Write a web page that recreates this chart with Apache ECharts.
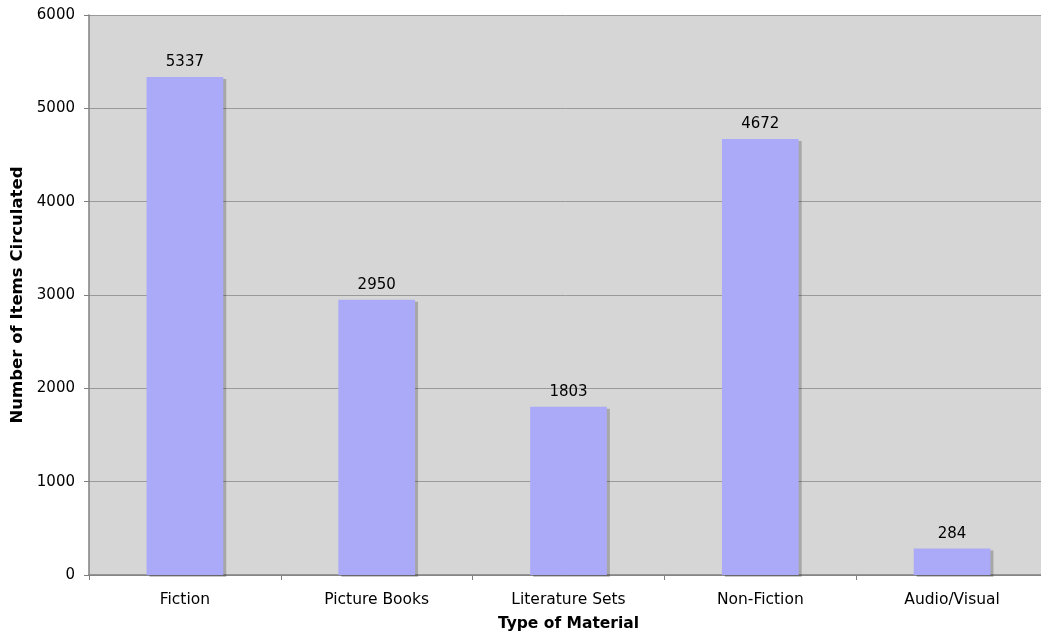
<!DOCTYPE html>
<html>
<head>
<meta charset="utf-8">
<script src="https://cdn.jsdelivr.net/npm/echarts@6/dist/echarts.min.js"></script>
<style>
  html, body { margin: 0; padding: 0; background: #ffffff; overflow: hidden; }
  #chart { width: 1041px; height: 639px; }
</style>
</head>
<body>
<div id="chart"></div>
<script>
// Circulation counts by type of material
var categories = ['Fiction', 'Picture Books', 'Literature Sets', 'Non-Fiction', 'Audio/Visual'];
var circulated = [5337, 2950, 1803, 4672, 284];

var FONT = '"DejaVu Sans", Verdana, sans-serif';

var chart = echarts.init(document.getElementById('chart'), null, { renderer: 'canvas' });
chart.setOption({
  animation: false,
  backgroundColor: '#ffffff',
  grid: {
    // the plot runs a little past the right edge of the canvas
    left: 89, top: 15, width: 959, height: 560,
    outerBoundsMode: 'none',
    containLabel: false,
    show: true,
    backgroundColor: '#d6d6d6',
    borderWidth: 0
  },
  xAxis: {
    type: 'category',
    data: categories,
    name: 'Type of Material',
    nameLocation: 'middle',
    nameGap: 41,
    nameTextStyle: { fontFamily: FONT, fontSize: 15.5, fontWeight: 'bold', color: '#000' },
    axisLine: { lineStyle: { color: '#808080', width: 1.5 } },
    axisTick: { show: true, length: 5, lineStyle: { color: '#808080' } },
    axisLabel: { fontFamily: FONT, fontSize: 15.5, color: '#000', margin: 17 }
  },
  yAxis: {
    type: 'value',
    min: 0, max: 6000, interval: 1000,
    name: 'Number of Items Circulated',
    nameLocation: 'middle',
    nameGap: 63,
    nameRotate: 90,
    nameTextStyle: { fontFamily: FONT, fontSize: 16.5, fontWeight: 'bold', color: '#000' },
    axisLine: { show: true, lineStyle: { color: '#808080', width: 1.5 } },
    axisTick: { show: true, length: 5, lineStyle: { color: '#808080' } },
    axisLabel: {
      fontFamily: FONT, fontSize: 15, color: '#000', margin: 14,
      formatter: function (v) { return String(v); }
    },
    splitLine: { show: true, lineStyle: { color: '#9a9a9a', width: 1 } }
  },
  series: [{
    type: 'bar',
    data: circulated,
    barWidth: '40%',
    itemStyle: {
      color: '#aaaaf8',
      shadowColor: 'rgba(0,0,0,0.22)',
      shadowOffsetX: 3,
      shadowOffsetY: 2,
      shadowBlur: 0
    },
    label: {
      show: true,
      position: 'top',
      distance: 7,
      fontFamily: FONT,
      fontSize: 15,
      color: '#000'
    }
  }]
});
</script>
</body>
</html>
